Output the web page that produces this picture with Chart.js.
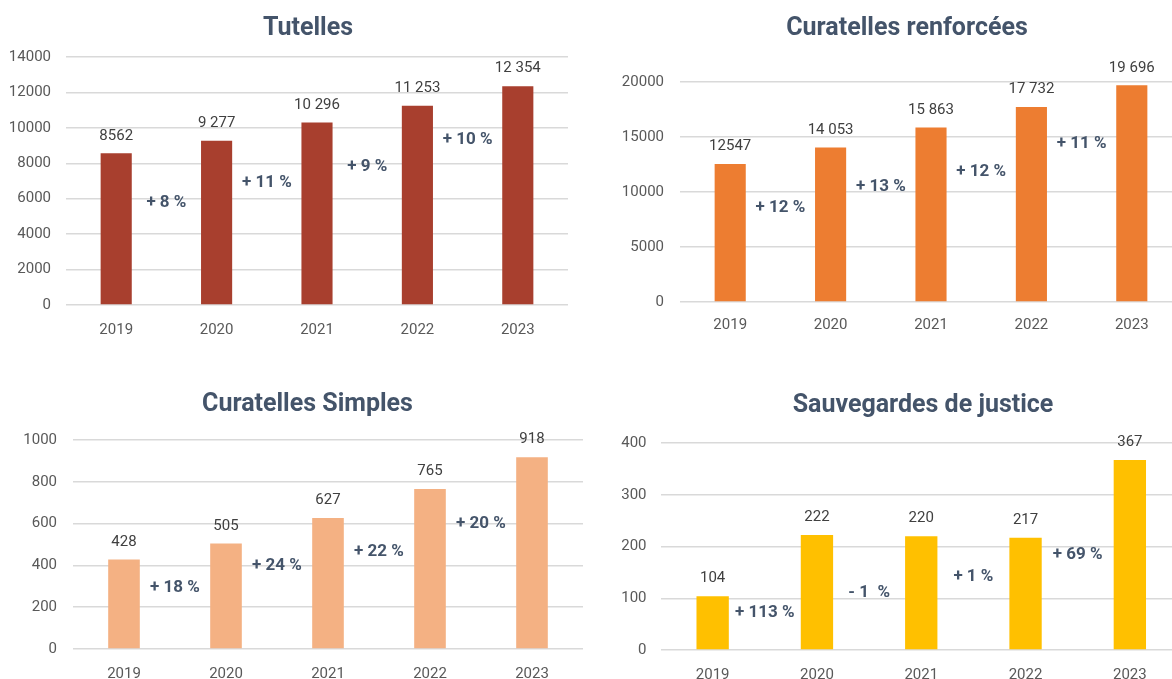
<!DOCTYPE html>
<html lang="fr">
<head>
<meta charset="utf-8">
<title>Mesures de protection 2019 - 2023</title>
<script src="https://cdn.jsdelivr.net/npm/chart.js@4.4.1/dist/chart.umd.min.js"></script>
<style>
  html, body { margin: 0; padding: 0; background: #ffffff; }
  body { width: 1172px; height: 679px; position: relative; overflow: hidden; }
  canvas { position: absolute; }
</style>
</head>
<body>
<canvas id="tutellesChart" width="580" height="345" style="left:0;top:0"></canvas>
<canvas id="renforceesChart" width="600" height="345" style="left:590px;top:0"></canvas>
<canvas id="simplesChart" width="590" height="303" style="left:0;top:376px"></canvas>
<canvas id="sauvegardesChart" width="600" height="303" style="left:590px;top:376px"></canvas>

<script>
// data
const years = ['2019', '2020', '2021', '2022', '2023'];

const tutelles = [8562, 9277, 10296, 11253, 12354];
const tutellesText = ['8562', '9 277', '10 296', '11 253', '12 354'];
const tutellesPct = ['+ 8 %', '+ 11 %', '+ 9 %', '+ 10 %'];
const tutellesPctLevel = [5800, 6900, 7830, 9350];

const renforcees = [12547, 14053, 15863, 17732, 19696];
const renforceesText = ['12547', '14 053', '15 863', '17 732', '19 696'];
const renforceesPct = ['+ 12 %', '+ 13 %', '+ 12 %', '+ 11 %'];
const renforceesPctLevel = [8550, 10490, 11820, 14360];

const simples = [428, 505, 627, 765, 918];
const simplesText = ['428', '505', '627', '765', '918'];
const simplesPct = ['+ 18 %', '+ 24 %', '+ 22 %', '+ 20 %'];
const simplesPctLevel = [294, 397, 466, 600];

const sauvegardes = [104, 222, 220, 217, 367];
const sauvegardesText = ['104', '222', '220', '217', '367'];
const sauvegardesPct = ['+ 113 %', '- 1  %', '+ 1 %', '+ 69 %'];
const sauvegardesPctLevel = [72, 111, 142, 185];

const TITLE_COLOR = '#44546A';
const TICK_COLOR = '#595959';
const GRID_COLOR = '#D9D9D9';

Chart.defaults.font.family = 'Roboto, "Open Sans", sans-serif';

// title, centred on the original chart frame (not on the plot area)
function headline(text, cx, baseline) {
  return {
    id: 'headline',
    afterDraw(chart) {
      const ctx = chart.ctx;
      ctx.save();
      ctx.font = 'bold 25px Roboto, sans-serif';
      ctx.fillStyle = TITLE_COLOR;
      ctx.textAlign = 'center';
      ctx.textBaseline = 'alphabetic';
      ctx.fillText(text, cx, baseline);
      ctx.restore();
    }
  };
}

// value above every bar
function valueLabels(texts) {
  return {
    id: 'valueLabels',
    afterDatasetsDraw(chart) {
      const ctx = chart.ctx;
      ctx.save();
      ctx.font = '15px Roboto, sans-serif';
      ctx.fillStyle = '#404040';
      ctx.textAlign = 'center';
      ctx.textBaseline = 'middle';
      chart.getDatasetMeta(0).data.forEach((bar, i) => {
        ctx.fillText(texts[i], bar.x, bar.y - 17.5);
      });
      ctx.restore();
    }
  };
}

// evolution % between two bars
function pctLabels(texts, levels) {
  return {
    id: 'pctLabels',
    afterDatasetsDraw(chart) {
      const ctx = chart.ctx;
      const x = chart.scales.x;
      const y = chart.scales.y;
      ctx.save();
      ctx.font = 'bold 17px Roboto, sans-serif';
      ctx.fillStyle = TITLE_COLOR;
      ctx.textAlign = 'center';
      ctx.textBaseline = 'middle';
      texts.forEach((t, i) => {
        const px = (x.getPixelForValue(i) + x.getPixelForValue(i + 1)) / 2;
        ctx.fillText(t, px, y.getPixelForValue(levels[i]));
      });
      ctx.restore();
    }
  };
}

function makeChart(id, opt) {
  return new Chart(document.getElementById(id), {
    type: 'bar',
    data: {
      labels: years,
      datasets: [{
        data: opt.values,
        backgroundColor: opt.color,
        barPercentage: 0.31,
        categoryPercentage: 1
      }]
    },
    plugins: [
      headline(opt.title, opt.titleX, opt.titleY),
      valueLabels(opt.texts),
      pctLabels(opt.pct, opt.pctLevel)
    ],
    options: {
      responsive: false,
      animation: false,
      layout: { padding: { left: 0, right: opt.padRight, top: opt.areaTop, bottom: 0 } },
      plugins: {
        legend: { display: false },
        tooltip: { enabled: false },
        title: { display: false }
      },
      scales: {
        x: {
          grid: { display: false },
          border: { display: false },
          ticks: { color: TICK_COLOR, font: { size: 15 }, padding: opt.xPad },
          afterFit: s => { s.height = opt.xHeight; }
        },
        y: {
          min: 0,
          max: opt.max,
          grid: { color: GRID_COLOR, lineWidth: 1.5, drawTicks: false },
          border: { display: false },
          ticks: {
            stepSize: opt.step,
            color: TICK_COLOR,
            font: { size: 15 },
            padding: opt.yPad,
            callback: v => String(v)
          },
          afterFit: s => { s.width = opt.yWidth; }
        }
      }
    }
  });
}

makeChart('tutellesChart', {
  title: 'Tutelles', values: tutelles, texts: tutellesText,
  pct: tutellesPct, pctLevel: tutellesPctLevel, color: '#A83F2E',
  max: 14000, step: 2000,
  titleX: 308, titleY: 35, areaTop: 57, padRight: 12,
  yWidth: 66, yPad: 15, xHeight: 40, xPad: 8
});

makeChart('renforceesChart', {
  title: 'Curatelles renforcées', values: renforcees, texts: renforceesText,
  pct: renforceesPct, pctLevel: renforceesPctLevel, color: '#ED7D31',
  max: 20000, step: 5000,
  titleX: 317, titleY: 35, areaTop: 82, padRight: 8,
  yWidth: 90, yPad: 16, xHeight: 43, xPad: 6
});

makeChart('simplesChart', {
  title: 'Curatelles Simples', values: simples, texts: simplesText,
  pct: simplesPct, pctLevel: simplesPctLevel, color: '#F4B183',
  max: 1000, step: 200,
  titleX: 307.5, titleY: 35, areaTop: 64, padRight: 7,
  yWidth: 73, yPad: 16, xHeight: 30, xPad: 8
});

makeChart('sauvegardesChart', {
  title: 'Sauvegardes de justice', values: sauvegardes, texts: sauvegardesText,
  pct: sauvegardesPct, pctLevel: sauvegardesPctLevel, color: '#FFC000',
  max: 400, step: 100,
  titleX: 333, titleY: 36, areaTop: 67, padRight: 8,
  yWidth: 70.5, yPad: 14, xHeight: 29, xPad: 8
});
</script>
</body>
</html>
